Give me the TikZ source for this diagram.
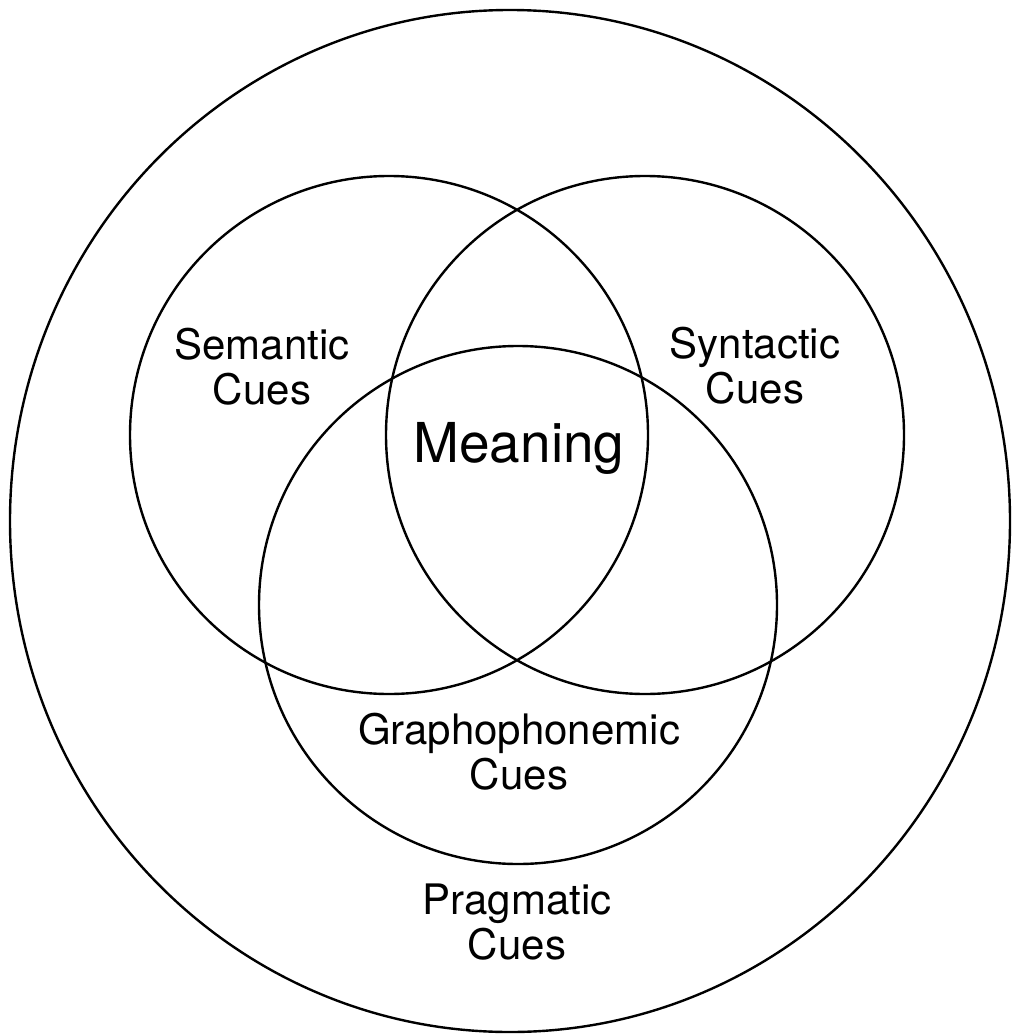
\documentclass[tikz,border=0pt]{standalone}
\usepackage{fontspec}
\setmainfont{TeX Gyre Heros}
\usetikzlibrary{shapes.geometric}

\begin{document}
\begin{tikzpicture}[x=1pt, y=-1pt,
  ring/.style={circle, draw, line width=2.4pt, minimum size=518pt, inner sep=0pt},
  cue/.style={align=center, font=\fontsize{42}{45}\selectfont, inner sep=0pt},
  core/.style={font=\fontsize{55}{60}\selectfont, inner sep=0pt}
]
\useasboundingbox (0,0) rectangle (1011,1035);
% outer ring
\node[ellipse, draw, line width=2.4pt, minimum width=1000pt, minimum height=1022pt, inner sep=0pt] (prag) at (510,521) {};
% the three cue systems
\node[ring] (sem) at (389,435) {};
\node[ring] (syn) at (645,435) {};
\node[ring] (gra) at (518,605) {};
% labels
\node[cue] (semtxt) at (262,367) {Semantic\\Cues};
\node[cue] (syntxt) at (755,366) {Syntactic\\Cues};
\node[core] (meaning) at (519,448) {Meaning};
\node[cue] (gratxt) at (519,752) {Graphophonemic\\Cues};
\node[cue] (pragtxt) at (517,922) {Pragmatic\\Cues};
\end{tikzpicture}
\end{document}
